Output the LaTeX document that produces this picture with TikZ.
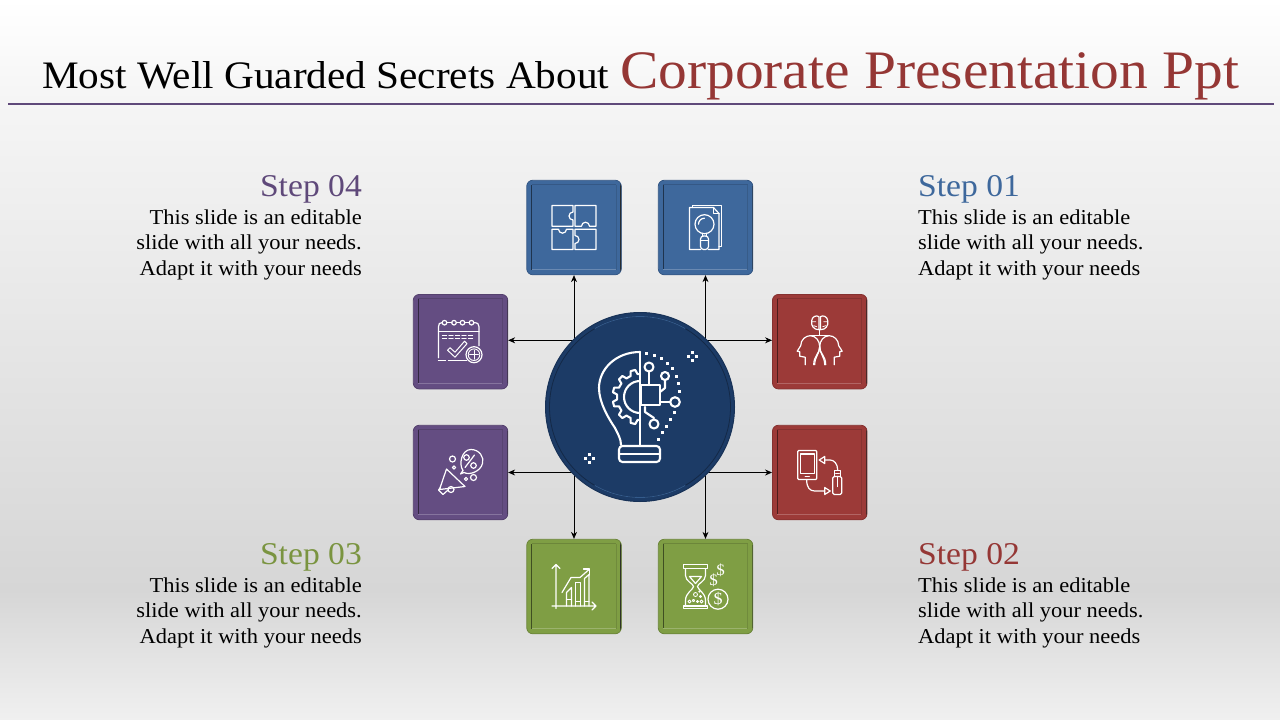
\documentclass[tikz,border=0pt]{standalone}
\usepackage{fontspec}
\usepackage{tikz}
\usetikzlibrary{arrows.meta}
\setmainfont[FakeStretch=1.06]{Liberation Serif}
\definecolor{blueTile}{HTML}{3E689C}
\definecolor{redTile}{HTML}{9C3A38}
\definecolor{greenTile}{HTML}{7F9E44}
\definecolor{purpleTile}{HTML}{644D82}
\definecolor{navyDisc}{HTML}{1C3B66}
\definecolor{titleRed}{HTML}{953735}
\definecolor{stepBlue}{HTML}{3E689C}
\definecolor{stepGreen}{HTML}{7A9440}
\definecolor{stepPurple}{HTML}{5F497A}
\definecolor{slideTop}{HTML}{F5F5F5}
\definecolor{slideLow}{HTML}{D6D6D6}
\definecolor{slideEnd}{HTML}{F0F0F0}
\pgfdeclareverticalshading{slidebg}{100bp}{
	color(0bp)=(slideEnd);
	color(25bp)=(slideEnd);
	color(34bp)=(slideLow);
	color(68bp)=(slideTop);
	color(75bp)=(white);
	color(100bp)=(white)}
\tikzset{
	tile/.style={rounded corners=6pt, minimum size=94.5pt, inner sep=0pt, draw=#1!85!black, line width=0.8pt, fill=#1,
		path picture={
			\draw[#1!50!black, line width=1.2pt] ([xshift=5pt,yshift=-5pt]path picture bounding box.north west) -- ([xshift=5pt,yshift=5pt]path picture bounding box.south west);
			\draw[#1!85!black, line width=1pt] ([xshift=5pt,yshift=-4.5pt]path picture bounding box.north west) -- ([xshift=-5pt,yshift=-4.5pt]path picture bounding box.north east);
			\draw[#1!78!white, line width=1pt] ([xshift=5pt,yshift=5pt]path picture bounding box.south west) -- ([xshift=-5pt,yshift=5pt]path picture bounding box.south east);
			\draw[#1!88!black, line width=1pt] ([xshift=-5pt,yshift=-5pt]path picture bounding box.north east) -- ([xshift=-5pt,yshift=5pt]path picture bounding box.south east);
			\draw[black!85, line width=2pt] (path picture bounding box.north east) -- (path picture bounding box.south east);
		}},
	link/.style={black, line width=0.8pt, {Stealth[length=7pt,width=6pt]}-{Stealth[length=7pt,width=6pt]}},
	icon/.style={white, line width=1.2pt, line join=round, line cap=round},
	bulbline/.style={icon, line width=2.1pt},
	stepname/.style={font=\fontsize{31.7}{34}\selectfont, inner sep=0pt},
	steptext/.style={font=\fontsize{21.2}{25.5}\selectfont, inner sep=0pt, black},
	every pic/.style={yscale=-1},
	%%
	puzzleicon/.pic={
		\draw[icon] (-1,-7.5) -- (-1,-1.3) -- (-22,-1.3) -- (-22,-22) -- (-1,-22) -- (-1,-15.5) arc (270:90:4);
		\draw[icon] (15.5,-1.3) -- (22,-1.3) -- (22,-22) -- (1,-22) -- (1,-1.3) -- (7.5,-1.3) arc (180:360:4);
		\draw[icon] (-15.5,1.7) -- (-22,1.7) -- (-22,22) -- (-1,22) -- (-1,1.7) -- (-7.5,1.7) arc (0:180:4);
		\draw[icon] (1,8) -- (1,1.7) -- (22,1.7) -- (22,22) -- (1,22) -- (1,16) arc (90:-90:4);
	},
	reporticon/.pic={
		\draw[icon] (-13,-20) -- (-13,-22.3) -- (16,-22.3) -- (16,19) -- (13.5,19);
		\draw[icon] (-5,22) -- (-16,22) -- (-16,-20) -- (8,-20) -- (13.5,-14) -- (13.5,22) -- (3,22);
		\draw[icon] (8,-20) -- (8,-14) -- (13.5,-14);
		\draw[icon] (-1,-3.3) circle (9.5);
		\draw[icon] (-7,-3.3) arc (180:270:6);
		\draw[icon] (-3,6) -- (-3,8.5) (1,6) -- (1,8.5);
		\draw[icon, rounded corners=3pt] (-5,8.5) -- (-5,22) -- (3,22) -- (3,8.5) -- cycle;
		\draw[icon] (-5,13) -- (3,13);
	},
	calendaricon/.pic={
		\draw[icon] (-22,16) -- (-22,-15) .. controls (-22,-18) and (-21,-19) .. (-18.5,-19);
		\draw[icon] (-13.5,-19) -- (-8.5,-19) (-4,-19) -- (-0.5,-19) (4.5,-19) -- (8.5,-19);
		\draw[icon] (13.5,-19) .. controls (17,-19) and (18.5,-18) .. (18.5,-15) -- (18.5,4);
		\foreach \x in {-16,-6.5,2,11} \draw[icon] (\x,-19) circle (2.3);
		\draw[icon] (-22,-10) -- (18.5,-10);
		\foreach \x in {-18,-11.5,-5,1.5,8} {
			\draw[icon] (\x,-6.5) -- (\x+4,-6.5);
			\draw[icon] (\x,-3) -- (\x+4,-3);
		}
		\draw[icon] (-22,18.5) -- (-15,18.5) (-12,18.5) -- (6,18.5);
		\draw[icon, line width=1pt] (-13,8.5) -- (-10.5,6) -- (-5.5,10.5) -- (4,-0.5) -- (6.5,2) -- (-5.5,15.5) -- cycle;
		\draw[icon] (13.5,13) circle (8);
		\draw[icon, line width=0.9pt] (13.5,13) circle (5.8);
		\draw[icon, line width=0.8pt] (13.5,8.5) -- (13.5,17.5) (9,13) -- (18,13);
	},
	megaphoneicon/.pic={
		\draw[icon] (2.5,-2) .. controls (-2,-8) and (1,-23) .. (10.5,-23) .. controls (19,-23) and (24,-15) .. (22,-9) .. controls (20,-1) and (9,3) .. (3.5,0) -- (0,1.5) -- cycle;
		\draw[icon] (4.5,-5) -- (14,-17.5);
		\draw[icon] (6,-15) circle (2.8);
		\draw[icon] (13,-7) circle (2.8);
		\draw[icon] (-8,-13.5) circle (3);
		\draw[icon] (-6.5,-5) circle (1.6);
		\draw[icon] (5.5,6.5) circle (1.6);
		\draw[icon] (13,5) circle (3);
		\draw[icon] (-14,-3.5) -- (4.5,14) -- (-21,17) -- cycle;
		\draw[icon] (-20,15) -- (-22,17.5) -- (-17.5,22) -- (-13,18);
		\draw[icon] (-9.5,17) circle (3);
	},
	headsicon/.pic={
		\foreach \s in {1,-1} {
			\begin{scope}[xscale=\s]
				\draw[icon] (-14.5,23) -- (-14.5,15.5) -- (-20,14.5) -- (-20,10) -- (-22.5,9.5) -- (-19,4) .. controls (-19,-2) and (-14,-6) .. (-9.5,-6) .. controls (-4,-6) and (0,-1) .. (0,5) .. controls (0,12) and (-6,14) .. (-6,23);
				\draw[icon] (0,5) .. controls (0,12) and (5,15) .. (5,23);
				\draw[icon] (-0.8,-25) .. controls (-3,-27) and (-8,-25) .. (-8,-21) .. controls (-9,-16) and (-6,-12) .. (-0.8,-12) -- cycle;
				\draw[icon, line width=0.8pt] (-8,-20) -- (-4,-20) (-6,-16) -- (-3,-15);
				\draw[icon] (0,-12) -- (0,-6.5) -- (-9.5,-6.5);
			\end{scope}
		}
	},
	usbicon/.pic={
		\draw[icon, rounded corners=1pt] (-22,-22) rectangle (-3,7);
		\draw[icon] (-19,-18.5) rectangle (-5.5,1);
		\draw[icon] (-14.5,4) -- (-10.5,4);
		\draw[icon] (18,-2.5) .. controls (18,-9) and (14,-12.5) .. (10.5,-12.5) -- (5,-12.5);
		\draw[icon] (5,-16) -- (5,-9) -- (-0.5,-12.5) -- cycle;
		\draw[icon] (-13,7.5) .. controls (-13,15) and (-10,18.5) .. (-5,18.5) -- (5,18.5);
		\draw[icon] (5,15) -- (5,22) -- (10.5,18.5) -- cycle;
		\draw[icon] (14.5,-2) rectangle (21,4);
		\draw[icon, rounded corners=1.5pt] (13,4) rectangle (22,22);
		\draw[icon] (16,1) -- (19.5,1) (17.5,4) -- (17.5,14);
	},
	charticon/.pic={
		\draw[icon] (-18,22) -- (-18,-22) (-22,-18) -- (-18,-22) -- (-14,-18);
		\draw[icon] (-22,19.5) -- (22,19.5) (18,15.5) -- (22,19.5) -- (18,23.5);
		\draw[icon] (-7.5,19.5) -- (-7.5,6) -- (-2.5,1) -- (-2.5,19.5);
		\draw[icon] (-7.5,13) -- (-2.5,13);
		\draw[icon] (1.5,19.5) -- (1.5,-4) -- (6.5,-4) -- (6.5,19.5);
		\draw[icon] (1.5,15) -- (6.5,15);
		\draw[icon] (10.5,19.5) -- (10.5,-8) -- (15,-12) -- (15,19.5);
		\draw[icon] (10.5,15) -- (15,15);
		\draw[icon] (-12,6) -- (-3,-9) -- (6,-9) -- (15,-17);
		\draw[icon] (9.5,-17.5) -- (15.5,-17.5) -- (15.5,-11.5);
	},
	hourglassicon/.pic={
		\draw[icon] (-22,-22.3) rectangle (2,-17.7);
		\draw[icon] (-22,19.5) rectangle (2,22);
		\draw[icon] (-20,-17.7) -- (-20,-11) .. controls (-20,-5) and (-12,-3) .. (-12,0) .. controls (-12,3) and (-20,6) .. (-20,14) -- (-20,19.5);
		\draw[icon] (0,-17.7) -- (0,-11) .. controls (0,-5) and (-8,-3) .. (-8,0) .. controls (-8,3) and (0,6) .. (0,14) -- (0,19.5);
		\draw[icon] (-16,-10) -- (-4,-10) -- (-10,-3) -- cycle;
		\foreach \x/\y/\r in {-16/15/1.5,-12/14/1.2,-10/8/2,-5/10/1,-4/15/1.5,-8/15/1,-6/5/0.8} \draw[icon, line width=0.8pt] (\x,\y) circle (\r);
		\draw[icon] (12.5,12.7) circle (10);
		\node[white, font=\fontsize{17}{17}\selectfont, inner sep=0pt] (coinmark) at (12.5,12.7) {\$};
		\node[white, font=\fontsize{16}{16}\selectfont, inner sep=0pt] (lowmark) at (8,-6) {\$};
		\node[white, font=\fontsize{16}{16}\selectfont, inner sep=0pt] (highmark) at (15,-16) {\$};
	},
	bulbicon/.pic={
		\draw[bulbline] (0,-55) -- (0,38);
		\draw[bulbline] (0,-55) .. controls (-24,-55) and (-41,-38) .. (-41,-19) .. controls (-41,-4) and (-31,12) .. (-25,21) .. controls (-22,27) and (-19,32) .. (-19,38);
		\draw[bulbline, rounded corners=3.5pt] (-21,39) rectangle (20,55);
		\draw[bulbline] (-21,47) -- (20,47);
		%%
		\begin{scope}[shift={(0,-10)}]
			\draw[bulbline] (0,23) \foreach \a in {105,135,165,195,225,255} { -- (\a-9:23) -- (\a-5:27.5) -- (\a+5:27.5) -- (\a+9:23) } -- (0,-23);
			\draw[bulbline] (0,-16) arc (270:90:16);
		\end{scope}
		%%
		\draw[bulbline] (1,-22) rectangle (20,-2);
		\draw[bulbline] (9,-40) circle (4.5);
		\draw[bulbline] (9,-35.5) -- (9,-22);
		\draw[bulbline] (25,-31) circle (4);
		\draw[bulbline] (25,-27) -- (25,-19) -- (20,-15);
		\draw[bulbline] (35,-5) circle (4.8);
		\draw[bulbline] (20,-5) -- (30,-5);
		\draw[bulbline] (5,0) -- (5,5) -- (14,11);
		\draw[bulbline] (14,17) circle (4.5);
		%%
		\foreach \x/\y in {6/-54,14/-52,21/-49,27/-44,32/-39,36/-31,38/-24,39/-16,34/5,30/12,26/19,22/25,18/32} \fill[white] (\x-1.5,\y-1.5) rectangle (\x+1.5,\y+1.5);
		\foreach \x/\y in {52/-51,-51/51} {
			\fill[white] (\x-1.5,\y-5.5) rectangle (\x+1.5,\y-2.5);
			\fill[white] (\x-1.5,\y+2.5) rectangle (\x+1.5,\y+5.5);
			\fill[white] (\x-5.5,\y-1.5) rectangle (\x-2.5,\y+1.5);
			\fill[white] (\x+2.5,\y-1.5) rectangle (\x+5.5,\y+1.5);
		}
	}
}
\begin{document}
\begin{tikzpicture}[x=1pt, y=1pt, yscale=-1]
	\useasboundingbox (0, 0) rectangle (1280, 720);
	\shade[shading=slidebg] (0, 0) rectangle (1280, 720);
	%%
	\node[anchor=base west, inner sep=0pt, font=\fontsize{38.9}{40}\selectfont] (titleleft) at (42, 88) {Most Well Guarded Secrets About};
	\node[anchor=base west, inner sep=0pt, text=titleRed, font=\fontsize{54.2}{56}\selectfont] (titleright) at (620, 88) {Corporate Presentation Ppt};
	\draw[stepPurple, line width=2.5pt] (8, 104) -- (1274, 104);
	%%
	\node[tile=blueTile] (puzzle) at (574, 227.5) {};
	\node[tile=blueTile] (report) at (705.5, 227.5) {};
	\node[tile=redTile] (heads) at (819.7, 341.7) {};
	\node[tile=redTile] (usb) at (819.7, 472.5) {};
	\node[tile=greenTile] (hourglass) at (705.5, 586.5) {};
	\node[tile=greenTile] (chart) at (574, 586.5) {};
	\node[tile=purpleTile] (megaphone) at (460.5, 472.5) {};
	\node[tile=purpleTile] (calendar) at (460.5, 341.7) {};
	%%
	\draw[link] (puzzle) -- (chart);
	\draw[link] (report) -- (hourglass);
	\draw[link] ([yshift=-1.4pt]calendar.east) -- ([yshift=-1.4pt]heads.west);
	\draw[link] (megaphone) -- (usb);
	%%
	\node[circle, fill=navyDisc, draw=navyDisc!85!black, line width=1pt, minimum size=189pt, inner sep=0pt] (disc) at (640, 407) {};
	\draw[navyDisc!70!black, line width=0.8pt] (disc) circle (90.5);
	\draw[blueTile!70!navyDisc, line width=0.8pt] (disc) ++(-60:90.5) arc (-60:-120:90.5);
	\draw[blueTile!70!navyDisc, line width=0.8pt] (disc) ++(60:90.5) arc (60:120:90.5);
	%%
	\pic at (disc) {bulbicon};
	\pic at (puzzle) {puzzleicon};
	\pic at (report) {reporticon};
	\pic at (heads) {headsicon};
	\pic at (usb) {usbicon};
	\pic at (hourglass) {hourglassicon};
	\pic at (chart) {charticon};
	\pic at (megaphone) {megaphoneicon};
	\pic at (calendar) {calendaricon};
	%%
	\node[stepname, text=stepPurple, anchor=base east] (step04) at (362, 196) {Step 04};
	\node[steptext, anchor=base east, align=right] (text04) at (362, 275) {This slide is an editable\\slide with all your needs.\\Adapt it with your needs};
	\node[stepname, text=stepBlue, anchor=base west] (step01) at (918, 196) {Step 01};
	\node[steptext, anchor=base west, align=left] (text01) at (918, 275) {This slide is an editable\\slide with all your needs.\\Adapt it with your needs};
	\node[stepname, text=stepGreen, anchor=base east] (step03) at (362, 564) {Step 03};
	\node[steptext, anchor=base east, align=right] (text03) at (362, 643) {This slide is an editable\\slide with all your needs.\\Adapt it with your needs};
	\node[stepname, text=titleRed, anchor=base west] (step02) at (918, 564) {Step 02};
	\node[steptext, anchor=base west, align=left] (text02) at (918, 643) {This slide is an editable\\slide with all your needs.\\Adapt it with your needs};
\end{tikzpicture}
\end{document}
